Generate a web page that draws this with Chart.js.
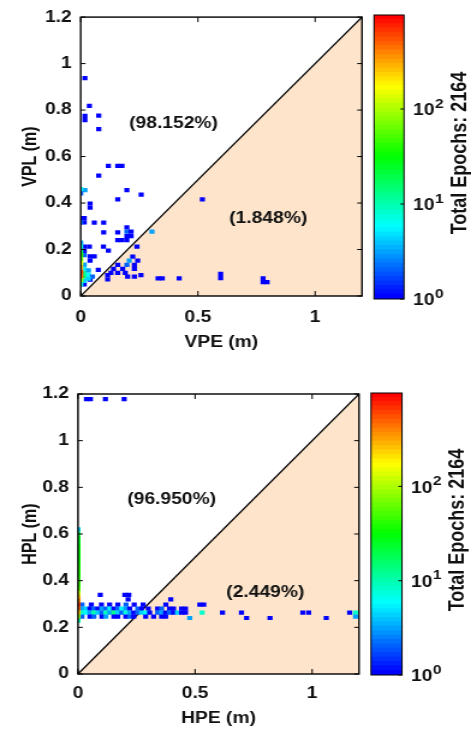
<!DOCTYPE html>
<html><head><meta charset="utf-8">
<script src="https://cdn.jsdelivr.net/npm/chart.js@4/dist/chart.umd.min.js"></script>
<style>
html,body{margin:0;padding:0;background:#fff;}
#wrap{position:relative;width:471px;height:731px;overflow:hidden;background:#fff;}
canvas{position:absolute;left:0;}
</style></head><body>
<div id="wrap">
<canvas id="c1" width="392" height="365" style="top:0;width:471px;height:365px"></canvas>
<canvas id="b1" width="392" height="365" style="top:0;width:471px;height:365px"></canvas>
<canvas id="c2" width="392" height="366" style="top:365px;width:471px;height:366px"></canvas>
<canvas id="b2" width="392" height="366" style="top:365px;width:471px;height:366px"></canvas>
</div>
<script>
// ---------- data ----------
const xTickValues = [0, 0.5, 1];
const yTickValues = [0, 0.2, 0.4, 0.6, 0.8, 1, 1.2];
const colorTickValues = [1, 10, 100];
const colorTickExp = ['0', '1', '2'];
const totalEpochs = 2164;
const vpeTitles = ['VPE (m)', 'VPL (m)'];
const hpeTitles = ['HPE (m)', 'HPL (m)'];
const vpeNotes = ['(98.152%)', '(1.848%)'];
const hpeNotes = ['(96.950%)', '(2.449%)'];

// VPE / VPL histogram cells
const vpeX = [0.018,0.037,0.018,0.018,0.077,0.077,0.118,0.158,0.176,0.077,
  0.018,0.197,0.258,0.158,0.519,0.040,0.040,0.015,0.015,0.058,
  0.098,0.098,0.158,0.197,0.197,0.215,0.197,0.215,0.176,0.158,
  0.197,0.304,0.240,0.015,0.015,0.015,0.037,0.097,0.118,0.040,
  0.058,0.040,0.222,0.207,0.243,0.229,0.229,0.179,0.158,0.197,
  0.140,0.129,0.158,0.190,0.075,0.115,0.115,0.200,0.229,0.257,
  0.330,0.348,0.420,0.597,0.597,0.778,0.778,0.795,0.040,0.015,
  0.015,0.015,0.033,0.015,0.033,0.050,0.033,0.015,0.015,
  0,0,0,0,0,0,0,0,0,0,0,0,0,0,0];
const vpeY = [0.937,0.818,0.775,0.757,0.776,0.718,0.560,0.560,0.560,0.518,
  0.456,0.456,0.436,0.416,0.416,0.398,0.380,0.335,0.317,0.316,
  0.316,0.274,0.274,0.295,0.277,0.277,0.258,0.258,0.240,0.240,
  0.240,0.277,0.212,0.212,0.194,0.176,0.212,0.212,0.195,0.170,
  0.170,0.152,0.169,0.152,0.152,0.134,0.117,0.117,0.134,0.134,
  0.117,0.100,0.100,0.100,0.112,0.090,0.072,0.083,0.083,0.090,
  0.076,0.076,0.076,0.095,0.077,0.076,0.060,0.060,0.070,0.050,
  0.100,0.083,0.092,0.118,0.110,0.083,0.075,0.135,0.065,
  0.460,0.442,0.335,0.317,0.230,0.212,0.194,0.176,0.158,0.140,0.122,0.104,0.086,0.068,0.050];
const vpeCount = [1,1,1,1,1,1,1,1,1,1,
  3,1,1,1,1,1,1,1,1,1,
  1,1,1,1,2,1,1,1,1,1,
  1,3,1,1,1,2,1,1,1,1,
  1,1,1,3,1,1,1,1,1,2,
  1,1,1,1,1,1,1,1,1,1,
  1,1,1,1,1,1,1,1,1,1,
  12,15,6,5,3,2,4,3,4,
  5,2,1,2,3,8,20,40,60,150,300,650,500,80,8];

// HPE / HPL histogram cells
const hpeX = [0.036,0.053,0.117,0.197,
  0.095,0.200,0.217,0.214,0.396,
  0.017,0.057,0.100,0.135,0.170,0.205,0.240,0.278,0.375,0.520,0.537,
  0.017,0.034,0.051,0.068,0.085,0.102,0.119,0.136,0.153,0.170,0.187,0.204,0.221,0.255,0.272,0.300,0.340,0.357,0.391,0.408,0.442,0.459,
  0.017,0.034,0.051,0.068,0.085,0.102,0.119,0.136,0.153,0.170,0.187,0.204,0.221,0.238,0.255,0.272,0.289,0.306,0.340,0.357,0.374,0.391,0.408,0.425,0.442,0.459,0.530,0.617,0.698,0.960,0.985,1.160,1.185,
  0.017,0.051,0.068,0.102,0.119,0.153,0.170,0.204,0.221,0.238,0.289,0.323,0.357,0.374,0.477,0.720,0.820,1.060,1.185,
  0,0,0,0,0,0,0,0,0,0,0,0,0,0,0,0,0,0,0,0,0,0,0,0];
const hpeY = [1.178,1.178,1.178,1.178,
  0.339,0.339,0.339,0.320,0.320,
  0.297,0.297,0.297,0.297,0.297,0.297,0.297,0.297,0.297,0.297,0.297,
  0.280,0.280,0.280,0.280,0.280,0.280,0.280,0.280,0.280,0.280,0.280,0.280,0.280,0.280,0.280,0.280,0.280,0.280,0.280,0.280,0.280,0.280,
  0.263,0.263,0.263,0.263,0.263,0.263,0.263,0.263,0.263,0.263,0.263,0.263,0.263,0.263,0.263,0.263,0.263,0.263,0.263,0.263,0.263,0.263,0.263,0.263,0.263,0.263,0.263,0.263,0.263,0.263,0.263,0.263,0.263,
  0.246,0.246,0.246,0.246,0.246,0.246,0.246,0.246,0.246,0.246,0.246,0.246,0.246,0.246,0.240,0.240,0.240,0.240,0.246,
  0.620,0.603,0.586,0.569,0.552,0.535,0.518,0.501,0.484,0.467,0.450,0.433,0.416,0.399,0.382,0.365,0.348,0.331,0.314,0.297,0.280,0.263,0.246,0.229];
const hpeCount = [1,1,1,1,
  1,1,1,1,1,
  2,1,1,1,1,2,1,1,1,1,1,
  3,4,1,2,1,3,2,5,1,2,6,3,1,2,1,1,1,2,1,1,1,1,
  8,6,3,10,4,2,9,3,12,4,2,7,3,1,2,4,6,1,2,3,1,2,1,4,1,1,8,1,1,1,1,1,8,
  2,1,2,1,3,1,1,1,2,1,1,1,1,1,3,1,1,1,3,
  4,15,25,25,30,30,30,30,30,35,35,35,40,40,45,60,120,250,400,700,500,250,80,10];

// ---------- helpers ----------
const FONT = '"Liberation Sans", Arial, Helvetica, sans-serif';
Chart.defaults.font.family = FONT;
Chart.defaults.color = '#000';
const K = 471 / 392;               // horizontal stretch of the canvases
const CB_MAX_LOG = 2.99;           // colour bar top = 10^2.99
const N_COLORS = 64;
const PEACH = 'rgb(253,228,202)';

function cmap(t) {
  const stops = [[0,0,0,255],[0.25,0,255,255],[0.5,0,255,0],[0.75,255,255,0],[1,255,0,0]];
  t = Math.max(0, Math.min(1, t));
  for (let i = 1; i < stops.length; i++) {
    if (t <= stops[i][0]) {
      const a = stops[i-1], b = stops[i], f = (t - a[0]) / (b[0] - a[0]);
      return `rgb(${Math.round(a[1]+f*(b[1]-a[1]))},${Math.round(a[2]+f*(b[2]-a[2]))},${Math.round(a[3]+f*(b[3]-a[3]))})`;
    }
  }
  return 'rgb(255,0,0)';
}
function countColor(c) {
  const idx = Math.min(N_COLORS - 1, Math.round(Math.log10(c) / CB_MAX_LOG * (N_COLORS - 1)));
  return cmap(idx / (N_COLORS - 1));
}

const frameTicks = {
  id: 'frameTicks',
  afterDatasetsDraw(chart, args, opts) {
    const {ctx, chartArea: a, scales: {x, y}} = chart;
    ctx.save();
    ctx.strokeStyle = '#000';
    ctx.lineWidth = 1;
    ctx.beginPath();
    xTickValues.forEach(v => {
      const p = x.getPixelForValue(v);
      ctx.moveTo(p, a.bottom); ctx.lineTo(p, a.bottom - 5);
      ctx.moveTo(p, a.top); ctx.lineTo(p, a.top + 5);
    });
    yTickValues.forEach(v => {
      const p = y.getPixelForValue(v);
      ctx.moveTo(a.left, p); ctx.lineTo(a.left + 4, p);
      ctx.moveTo(a.right, p); ctx.lineTo(a.right - 4, p);
    });
    ctx.stroke();
    ctx.lineWidth = 1.4;
    ctx.strokeRect(a.left, a.top, a.right - a.left, a.bottom - a.top);
    ctx.fillStyle = '#111';
    ctx.font = 'bold 16px ' + FONT;
    ctx.textAlign = 'center';
    ctx.textBaseline = 'middle';
    (opts.notes || []).forEach(n => ctx.fillText(n.text, x.getPixelForValue(n.x), y.getPixelForValue(n.y)));
    ctx.restore();
  }
};

function mainChart(id, xs, ys, cs, titles, notes, geo) {
  const pts = xs.map((v, i) => ({x: v, y: ys[i]}));
  return new Chart(document.getElementById(id), {
    type: 'scatter',
    data: {
      datasets: [
        {type: 'line', data: [{x: 0, y: 0}, {x: 1.2, y: 1.2}], borderColor: '#000', borderWidth: 1.3,
         backgroundColor: PEACH, fill: 'origin', pointRadius: 0, order: 2},
        {type: 'scatter', data: pts, backgroundColor: cs.map(countColor), pointStyle: 'rect',
         pointRadius: 3.0, borderWidth: 0, clip: 0, order: 1}
      ]
    },
    options: {
      responsive: false, animation: false, devicePixelRatio: 1,
      layout: {padding: {left: 0, top: geo.top, right: geo.right, bottom: 0}},
      plugins: {legend: {display: false}, tooltip: {enabled: false}, frameTicks: {notes}},
      scales: {
        x: {type: 'linear', min: 0, max: 1.2,
            afterBuildTicks: s => { s.ticks = xTickValues.map(v => ({value: v})); },
            ticks: {font: {size: 16, weight: 'bold'}, color: '#111', padding: geo.xpad, maxRotation: 0,
                    callback: v => String(v)},
            grid: {display: false, drawTicks: false}, border: {display: false},
            title: {display: true, text: titles[0], font: {size: 16, weight: 'bold'}, color: '#111', padding: {top: 0, bottom: geo.xtpad}},
            afterFit: s => { s.height = geo.xh; }},
        y: {type: 'linear', min: 0, max: 1.2,
            afterBuildTicks: s => { s.ticks = yTickValues.map(v => ({value: v})); },
            ticks: {font: {size: 16, weight: 'bold'}, color: '#111', padding: geo.ypad,
                    callback: v => String(v)},
            grid: {display: false, drawTicks: false}, border: {display: false},
            title: {display: true, text: titles[1], font: {size: 16, weight: 'bold'}, color: '#111', padding: {top: geo.ytpad, bottom: 0}},
            afterFit: s => { s.width = geo.yw; }}
      }
    },
    plugins: [frameTicks]
  });
}

const cbDecor = {
  id: 'cbDecor',
  afterDatasetsDraw(chart) {
    const {ctx, chartArea: a, scales: {y}} = chart;
    ctx.save();
    ctx.strokeStyle = '#000';
    ctx.lineWidth = 1;
    ctx.beginPath();
    colorTickValues.forEach(v => {
      const p = y.getPixelForValue(v);
      ctx.moveTo(a.right, p); ctx.lineTo(a.right - 3, p);
    });
    ctx.stroke();
    ctx.strokeRect(a.left, a.top, a.right - a.left, a.bottom - a.top);
    ctx.fillStyle = '#111';
    ctx.textAlign = 'left';
    ctx.textBaseline = 'middle';
    colorTickValues.forEach((v, i) => {
      const p = y.getPixelForValue(v);
      ctx.font = 'bold 16px ' + FONT;
      const x0 = a.right + 7.5;
      ctx.fillText('10', x0, p + 2);
      const w = ctx.measureText('10').width;
      ctx.font = 'bold 13px ' + FONT;
      ctx.fillText(colorTickExp[i], x0 + w + 0.5, p - 5);
    });
    ctx.font = 'bold 18px ' + FONT;
    ctx.textAlign = 'center';
    ctx.translate(a.right + 46.5, (a.top + a.bottom) / 2 - 4);
    ctx.rotate(-Math.PI / 2);
    ctx.fillText('Total Epochs: ' + totalEpochs, 0, 0);
    ctx.restore();
  }
};

function colorBar(id, geo) {
  const datasets = [];
  for (let i = 0; i < N_COLORS; i++) {
    const lo = Math.pow(10, i * CB_MAX_LOG / N_COLORS);
    const hi = Math.pow(10, (i + 1) * CB_MAX_LOG / N_COLORS + 0.004);
    datasets.push({data: [[lo, hi]], backgroundColor: cmap(i / (N_COLORS - 1)), borderWidth: 0,
                   grouped: false, barPercentage: 1, categoryPercentage: 1});
  }
  return new Chart(document.getElementById(id), {
    type: 'bar',
    data: {labels: [''], datasets},
    options: {
      responsive: false, animation: false, devicePixelRatio: 1,
      layout: {padding: geo},
      plugins: {legend: {display: false}, tooltip: {enabled: false}},
      scales: {
        x: {display: false},
        y: {type: 'logarithmic', min: 1, max: Math.pow(10, CB_MAX_LOG), display: false}
      }
    },
    plugins: [cbDecor]
  });
}

mainChart('c1', vpeX, vpeY, vpeCount, vpeTitles,
  [{text: vpeNotes[0], x: 0.396, y: 0.74}, {text: vpeNotes[1], x: 0.80, y: 0.335}],
  {top: 17, right: 392 - 362 / K, yw: 80.7 / K, xh: 365 - 296, xpad: 12, xtpad: 13, ypad: 7.5, ytpad: 16});
mainChart('c2', hpeX, hpeY, hpeCount, hpeTitles,
  [{text: hpeNotes[0], x: 0.40, y: 0.746}, {text: hpeNotes[1], x: 0.80, y: 0.347}],
  {top: 29, right: 392 - 359 / K, yw: 78 / K, xh: 366 - 309, xpad: 10, xtpad: 3, ypad: 7.5, ytpad: 16});
colorBar('b1', {left: 374 / K, right: 392 - 404 / K, top: 15, bottom: 365 - 299});
colorBar('b2', {left: 371 / K, right: 392 - 402 / K, top: 28, bottom: 731 - 675});
</script>
</body></html>
